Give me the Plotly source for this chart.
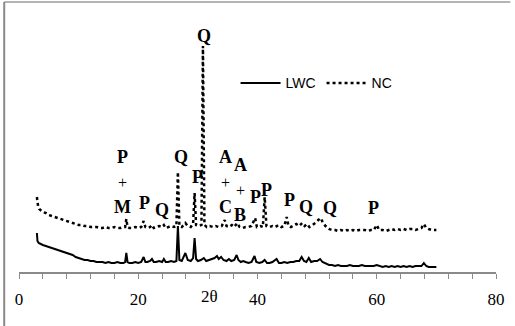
import plotly.graph_objects as go

# ---------------- data (2θ in degrees, intensity in arbitrary units) ----------------
theta_lwc = [3.0, 3.1, 3.3, 3.6, 4.0, 4.5, 5.0, 5.5, 6.0, 6.5, 7.0, 7.5, 8.0, 8.5, 9.0, 9.5,
             10.0, 10.5, 11.0, 11.5, 12.0, 12.5, 13.0, 13.5, 14.0, 14.5, 15.0, 15.5, 16.0, 16.5,
             17.0, 17.5, 17.8, 18.0, 18.2, 18.5, 19.0, 19.5, 20.0, 20.5, 20.9, 21.2, 21.5, 22.0,
             22.3, 22.6, 23.0, 23.5, 24.0, 24.3, 24.6, 25.0, 25.5, 26.0, 26.4, 26.65, 26.9, 27.3,
             27.9, 28.3, 28.8, 29.2, 29.45, 29.7, 30.0, 30.5, 31.0, 31.4, 31.8, 32.3, 32.8, 33.2,
             33.5, 33.9, 34.3, 34.8, 35.2, 35.6, 36.1, 36.5, 36.8, 37.2, 37.6, 38.0, 38.5, 39.0,
             39.5, 39.8, 40.3, 40.8, 41.2, 41.6, 42.0, 42.5, 43.2, 43.6, 44.0, 44.5, 45.0, 45.5,
             46.0, 46.5, 47.0, 47.4, 47.8, 48.2, 48.6, 49.0, 49.5, 50.0, 50.5, 50.9, 51.5, 52.0,
             52.5, 53.0, 53.5, 54.0, 54.5, 55.0, 55.5, 56.0, 56.5, 57.0, 57.5, 58.0, 58.5, 59.0,
             59.5, 60.0, 60.5, 61.0, 61.5, 62.0, 62.5, 63.0, 63.5, 64.0, 64.5, 65.0, 65.5, 66.0,
             66.5, 67.0, 67.5, 67.9, 68.3, 68.7, 69.2, 70.0]
int_lwc = [39, 31, 29, 28, 27, 26, 25, 24, 23, 22, 21, 20, 19, 18, 17, 15,
           14, 13, 12, 12, 11, 11, 10, 10, 10, 9, 10, 9, 9, 10,
           9, 9, 10, 19, 10, 9, 9, 10, 9, 10, 15, 10, 10, 11,
           13, 10, 10, 11, 10, 13, 10, 10, 11, 10, 11, 46, 12, 11,
           19, 12, 11, 14, 34, 13, 11, 12, 14, 11, 12, 13, 14, 16,
           13, 15, 12, 11, 13, 11, 12, 17, 12, 10, 11, 10, 9, 10,
           16, 10, 9, 10, 12, 9, 9, 10, 13, 9, 9, 10, 9, 10,
           10, 11, 11, 15, 11, 10, 14, 10, 11, 11, 13, 10, 8, 7,
           7, 6, 7, 6, 6, 6, 7, 6, 6, 6, 7, 6, 6, 6,
           6, 7, 6, 5, 6, 5, 6, 5, 6, 5, 6, 5, 6, 5,
           6, 6, 6, 9, 6, 5, 5, 5]

theta_nc = [3.0, 3.1, 3.2, 3.4, 3.7, 4.0, 4.5, 5.0, 5.5, 6.0, 6.5, 7.0, 7.5, 8.0, 8.5, 9.0,
            9.5, 10.0, 10.5, 11.0, 11.5, 12.0, 12.5, 13.0, 13.5, 14.0, 14.5, 15.0, 15.5, 16.0,
            16.5, 17.0, 17.5, 17.8, 18.0, 18.2, 18.5, 19.0, 19.5, 20.0, 20.5, 20.9, 21.2, 21.6,
            22.0, 22.3, 22.6, 23.0, 23.5, 24.0, 24.3, 24.6, 25.0, 25.5, 26.0, 26.4, 26.65, 26.9,
            27.3, 27.9, 28.3, 28.8, 29.2, 29.45, 29.7, 30.2, 30.6, 30.85, 31.1, 31.5, 32.0, 32.5,
            33.0, 33.5, 34.0, 34.5, 34.8, 35.2, 35.7, 36.1, 36.6, 37.0, 37.5, 38.0, 38.5, 39.0,
            39.6, 39.9, 40.5, 40.9, 41.2, 41.5, 42.0, 42.5, 43.0, 43.5, 44.0, 44.5, 44.9, 45.2,
            45.6, 46.0, 46.5, 47.0, 47.5, 47.9, 48.3, 48.7, 49.2, 49.7, 50.2, 50.6, 51.0, 51.4,
            52.0, 52.5, 53.0, 53.5, 54.0, 54.5, 55.0, 55.5, 56.0, 56.5, 57.0, 57.5, 58.0, 58.5,
            59.0, 59.5, 60.0, 60.4, 61.0, 61.5, 62.0, 62.5, 63.0, 63.5, 64.0, 64.5, 65.0, 65.5,
            66.0, 66.5, 67.0, 67.5, 67.9, 68.3, 68.7, 69.2, 70.0]
int_nc = [75, 69, 66, 63, 61, 60, 59, 57, 56, 55, 54, 53, 52, 51, 50, 49,
          48, 47, 47, 46, 46, 45, 45, 45, 44, 44, 45, 44, 44, 45,
          44, 44, 45, 45, 53, 45, 44, 44, 45, 44, 45, 51, 45, 44,
          45, 47, 44, 45, 46, 45, 47, 44, 45, 46, 45, 46, 100, 46,
          45, 49, 46, 45, 48, 79, 47, 46, 47, 226, 47, 45, 46, 45,
          46, 45, 46, 52, 46, 45, 47, 45, 49, 45, 44, 45, 45, 46,
          54, 45, 46, 45, 75, 46, 45, 46, 45, 47, 45, 46, 55, 46,
          45, 46, 48, 46, 49, 46, 48, 45, 47, 49, 52, 54, 49, 46,
          43, 42, 42, 41, 42, 41, 42, 41, 42, 41, 42, 42, 42, 41,
          42, 42, 47, 42, 42, 41, 42, 43, 42, 43, 42, 43, 42, 43,
          43, 42, 43, 44, 48, 44, 43, 42, 42]

# phase labels: (text, 2θ position, intensity position)
label_text = ["P", "+", "M", "P", "Q", "Q", "P", "Q", "A", "+", "C", "A", "+", "B",
              "P", "P", "P", "Q", "Q", "P"]
label_x = [17.4, 17.4, 17.4, 21.05, 24.05, 27.2, 29.9, 31.05, 34.7, 34.7, 34.7, 37.2, 37.2, 37.1,
           39.7, 41.55, 45.4, 48.1, 52.2, 59.5]
label_y = [115, 90, 65, 69, 62, 115, 95, 236, 115, 90, 65, 107, 82, 57,
           75, 82, 72, 65, 64, 64]

x_ticks = list(range(0, 81, 4))
x_tick_text = [str(v) if v % 20 == 0 else "" for v in x_ticks]

# ---------------- figure ----------------
fig = go.Figure()
fig.add_trace(go.Scatter(x=theta_lwc, y=int_lwc, mode="lines", name="LWC",
                         line=dict(color="black", width=2)))
fig.add_trace(go.Scatter(x=theta_nc, y=int_nc, mode="lines", name="NC",
                         line=dict(color="black", width=2.5, dash="dot")))

for t, xv, yv in zip(label_text, label_x, label_y):
    bold = t != "+"
    fig.add_annotation(x=xv, y=yv, xref="x", yref="y", showarrow=False,
                       text=f"<b>{t}</b>" if bold else t,
                       font=dict(family="Liberation Serif", size=18 if bold else 16, color="black"),
                       xanchor="center", yanchor="middle")

fig.add_annotation(x=31.9, y=-0.095, xref="x", yref="paper", showarrow=False,
                   text="2θ", font=dict(family="Liberation Serif", size=17, color="black"),
                   xanchor="center", yanchor="middle")

# outer frame (top and left edges)
fig.add_shape(type="line", xref="paper", yref="paper", x0=-0.031, x1=1.03, y0=1.0305, y1=1.0305,
              line=dict(color="#b4b4b4", width=2))
fig.add_shape(type="line", xref="paper", yref="paper", x0=-0.031, x1=-0.031, y0=1.0305, y1=-0.21,
              line=dict(color="#8a8a8a", width=2))

fig.update_layout(
    width=515, height=326,
    margin=dict(l=19, r=16, t=10, b=54),
    paper_bgcolor="white", plot_bgcolor="white",
    showlegend=True,
    legend=dict(orientation="h", x=0.454, y=0.72, xanchor="left", yanchor="middle",
                font=dict(family="Liberation Sans", size=14, color="black"),
                entrywidth=31, entrywidthmode="pixels", bgcolor="rgba(0,0,0,0)",
                itemwidth=40),
)
fig.update_xaxes(range=[0, 80], tickmode="array", tickvals=x_ticks, ticktext=x_tick_text,
                 showline=True, linecolor="#8a8a8a", linewidth=1.5,
                 ticks="outside", ticklen=5, tickcolor="#8a8a8a", tickwidth=1,
                 showgrid=False, zeroline=False, ticklabelstandoff=6,
                 tickfont=dict(family="Liberation Serif", size=17, color="black"))
fig.update_yaxes(range=[0, 262], visible=False, showgrid=False, zeroline=False)

fig.write_html("out.html")
